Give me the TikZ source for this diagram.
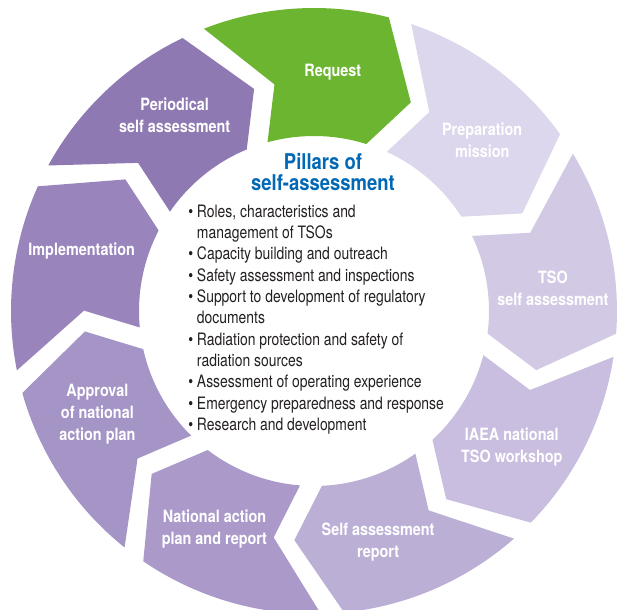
\documentclass[tikz,border=0pt]{standalone}
\usepackage{fontspec}
\setmainfont{TeX Gyre Heros}[FakeStretch=0.85]
\newfontfamily\listfont{TeX Gyre Heros}[FakeStretch=0.815]
\definecolor{reqgreen}{HTML}{6CB530}
\definecolor{prepcol}{HTML}{DCD7EC}
\definecolor{tsocol}{HTML}{D2CAE4}
\definecolor{iaeacol}{HTML}{C9BEDF}
\definecolor{sarcol}{HTML}{BCAFD6}
\definecolor{napcol}{HTML}{AB9AC9}
\definecolor{apprcol}{HTML}{A594C6}
\definecolor{implcol}{HTML}{9985BC}
\definecolor{periodcol}{HTML}{8F79B2}
\definecolor{pillarblue}{HTML}{0068B4}
\definecolor{listgray}{HTML}{231F20}
\newcommand{\pitem}{\textbullet\ }
\newcommand{\pindent}{\hphantom{\textbullet\ }}
\begin{document}
\begin{tikzpicture}[x=0.75pt,y=0.75pt,
  seglabel/.style={text=white,font=\bfseries\fontsize{12.7}{16.5}\selectfont,align=center,inner sep=0pt},
  pillartitle/.style={text=pillarblue,font=\bfseries\fontsize{16.3}{15.75}\selectfont,align=center,inner sep=0pt},
  pillarlist/.style={text=listgray,font=\listfont\fontsize{12.8}{16}\selectfont,align=left,inner sep=0pt}]
  \useasboundingbox (-314,-299) rectangle (304,311);
  % ring of steps, clockwise from the top
  \foreach \c/\col/\txt [count=\i] in {
      0/reqgreen/Request,
      40/prepcol/{Preparation\\mission},
      80/tsocol/{TSO\\self assessment},
      120/iaeacol/{IAEA national\\TSO workshop},
      160/sarcol/{Self assessment\\report},
      200/napcol/{National action\\plan and report},
      240/apprcol/{Approval\\of national\\action plan},
      280/implcol/Implementation,
      320/periodcol/{Periodical\\self assessment}}{
    \fill[\col] ({90-\c+21.3}:303) arc[start angle={90-\c+21.3}, end angle={90-\c-14.3}, radius=303]
      -- ({90-\c-24.9}:230) -- ({90-\c-17.4}:175)
      arc[start angle={90-\c-17.4}, end angle={90-\c+15.4}, radius=175]
      -- ({90-\c+9.9}:230) -- cycle;
    \node[seglabel] (step\i) at ({90-\c-4.5}:240) {\txt};
  }
  % centre
  \node[pillartitle] (title) at (9,138.5) {Pillars of\\self-assessment};
  \node[pillarlist,anchor=north west] (pillars) at (-126,106.5) {%
    \pitem Roles, characteristics and\\
    \pindent management of TSOs\\
    \pitem Capacity building and outreach\\
    \pitem Safety assessment and inspections\\
    \pitem Support to development of regulatory\\
    \pindent documents\\
    \pitem Radiation protection and safety of\\
    \pindent radiation sources\\
    \pitem Assessment of operating experience\\
    \pitem Emergency preparedness and response\\
    \pitem Research and development};
\end{tikzpicture}
\end{document}
